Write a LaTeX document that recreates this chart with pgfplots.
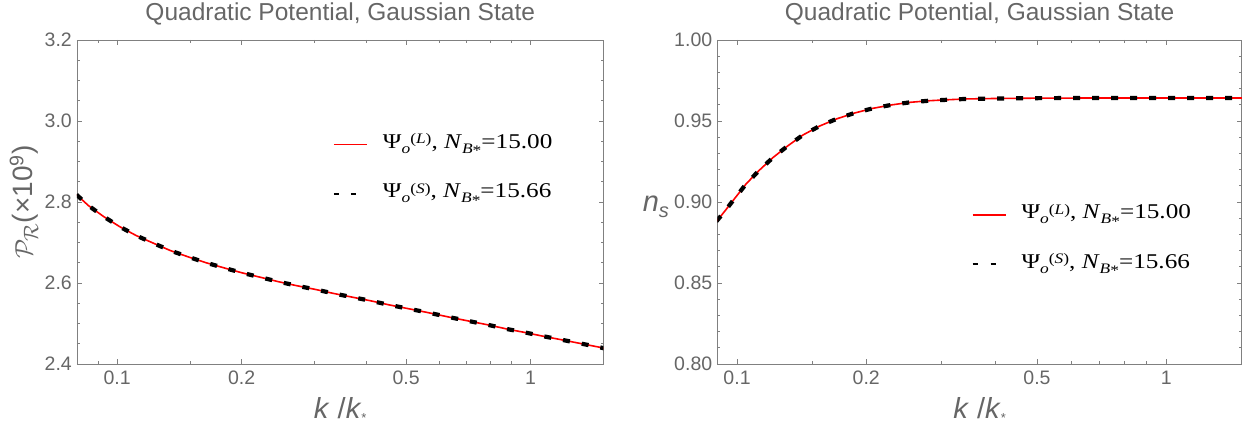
\documentclass[border=0pt]{standalone}
\usepackage{pgfplots}
\pgfplotsset{compat=1.18}
\usepackage{fontspec}
\setmainfont{Liberation Sans}
\newfontfamily\serif{Liberation Serif}[FakeStretch=1.2]
\definecolor{fr}{gray}{0.5}
\definecolor{tc}{gray}{0.4}

\newcommand{\legtext}[2]{Ψ\raisebox{-5pt}{\fontsize{14.5}{14}\selectfont\itshape o}\raisebox{4.5pt}{\fontsize{14.5}{14}\selectfont(\itshape #1\upshape)}, \textit{N}\raisebox{-5pt}{\fontsize{14.5}{14}\selectfont\itshape B\upshape\raisebox{-2.5pt}{*}}=#2\rule[-8pt]{0pt}{25pt}}

\pgfplotsset{
 mma/.style={
  scale only axis,
  axis line style={fr, line width=0.9pt},
  tick style={fr, line width=0.8pt},
  tick align=inside, major tick length=5pt, minor tick length=3pt,
  tick pos=both,
  xtick={0.1,0.2,0.5,1}, xticklabels={0.1,0.2,0.5,1},
  minor xtick={0.09,0.15,0.3,0.4,0.6,0.7,0.8,0.9},
  /pgf/number format/assume math mode=true,
  ticklabel style={font=\fontsize{19.5}{20}\selectfont, text=tc, inner sep=0pt},
  xticklabel style={anchor=north, yshift=-6.5pt},
  yticklabel style={anchor=east, xshift=-5pt},
  title style={at={(0.5,1)}, anchor=base, yshift=13.3pt, font=\fontsize{24.5}{26}\selectfont, text=tc},
  xlabel style={at={(axis description cs:0.5,0)}, anchor=base, yshift=-54.3pt, font=\fontsize{29}{30}\selectfont, text=tc},
  xlabel={\textit{k} /\textit{k}\raisebox{-4pt}{\fontsize{13}{13}\selectfont *}},
  title={Quadratic Potential, Gaussian State},
  legend style={draw=none, fill=none, inner sep=0pt, outer sep=0pt, nodes={inner sep=0pt},
    cells={anchor=base west}, row sep=31pt, font=\serif\fontsize{21}{22}\selectfont, anchor=north west},
  legend image code/.code={\draw[##1] (0pt,3.8pt) -- (33pt,3.8pt); \path[draw=none] (0pt,3.8pt) -- (49pt,3.8pt);},
 }
}

\begin{document}
\begin{tikzpicture}
\path[use as bounding box] (0,0) rectangle (1248pt,425pt);

\begin{axis}[xmode=log, mma,
  at={(77pt,61pt)}, anchor=south west, width=526.5pt, height=324pt,
  xmin=0.08, xmax=1.5, ymin=2.4, ymax=3.2,
  ytick={2.4,2.6,2.8,3.0,3.2}, yticklabels={2.4,2.6,2.8,3.0,3.2},
  minor ytick={2.45,2.5,2.55,2.65,2.7,2.75,2.85,2.9,2.95,3.05,3.1,3.15},
  ylabel={$\mathcal{P}_{\mathcal{R}}$(×10\textsuperscript{9})},
  ylabel style={at={([xshift=-53pt]axis description cs:0,0.5)}, anchor=center, font=\fontsize{28}{30}\selectfont, text=tc},
  legend style={at={(0.4862,0.7182)}},
]
\addplot[red, line width=1.6pt, forget plot] coordinates {
(0.0798,2.818) (0.0853,2.791) (0.0928,2.764) (0.1015,2.739) (0.1113,2.717) (0.1226,2.698)
(0.1346,2.680) (0.1491,2.664) (0.1642,2.650) (0.1819,2.637) (0.2007,2.625) (0.2223,2.614)
(0.2461,2.603) (0.2728,2.593) (0.3020,2.584) (0.3345,2.574) (0.3707,2.565) (0.4105,2.556)
(0.4546,2.546) (0.5037,2.537) (0.5578,2.528) (0.6474,2.514) (0.7167,2.505) (0.7942,2.496)
(0.8797,2.486) (0.9779,2.477) (1.0787,2.468) (1.1992,2.459) (1.3289,2.450) (1.4742,2.441) (1.51,2.438)};
\addplot[black, line width=4.2pt, dash pattern=on 7pt off 12pt, forget plot] coordinates {
(0.0798,2.818) (0.0853,2.791) (0.0928,2.764) (0.1015,2.739) (0.1113,2.717) (0.1226,2.698)
(0.1346,2.680) (0.1491,2.664) (0.1642,2.650) (0.1819,2.637) (0.2007,2.625) (0.2223,2.614)
(0.2461,2.603) (0.2728,2.593) (0.3020,2.584) (0.3345,2.574) (0.3707,2.565) (0.4105,2.556)
(0.4546,2.546) (0.5037,2.537) (0.5578,2.528) (0.6474,2.514) (0.7167,2.505) (0.7942,2.496)
(0.8797,2.486) (0.9779,2.477) (1.0787,2.468) (1.1992,2.459) (1.3289,2.450) (1.4742,2.441) (1.51,2.438)};
\addlegendimage{red, line width=1.3pt}
\addlegendentry{\legtext{L}{15.00}}
\addlegendimage{black, line width=2pt, dash pattern=on 5pt off 12pt}
\addlegendentry{\legtext{S}{15.66}}
\end{axis}

\begin{axis}[xmode=log, mma,
  at={(717.4pt,61pt)}, anchor=south west, width=524.4pt, height=324pt,
  xmin=0.09, xmax=1.5, ymin=0.8, ymax=1.0,
  ytick={0.8,0.85,0.9,0.95,1.0}, yticklabels={0.80,0.85,0.90,0.95,1.00},
  minor y tick num=4,
  ylabel={\textit{n}\raisebox{-6pt}{\fontsize{20}{20}\selectfont\textit{s}}},
  ylabel style={rotate=-90, at={([xshift=-61.5pt,yshift=-9.7pt]axis description cs:0,0.5)}, anchor=base, font=\fontsize{29}{30}\selectfont, text=tc},
  legend style={at={(0.4847,0.5009)}},
]
\addplot[red, line width=1.6pt, forget plot] coordinates {
(0.0895,0.8880) (0.0931,0.8935) (0.0987,0.9021) (0.1051,0.9113) (0.1129,0.9198) (0.1211,0.9273)
(0.1312,0.9346) (0.1425,0.9414) (0.1558,0.9469) (0.1710,0.9514) (0.1877,0.9549) (0.2071,0.9578)
(0.2286,0.9599) (0.2525,0.9615) (0.2796,0.9625) (0.3087,0.9631) (0.3405,0.9636) (0.40,0.9639)
(0.5,0.9641) (0.7,0.9642) (1.0,0.9642) (1.51,0.9642)};
\addplot[black, line width=4.2pt, dash pattern=on 7pt off 12pt, forget plot] coordinates {
(0.0895,0.8880) (0.0931,0.8935) (0.0987,0.9021) (0.1051,0.9113) (0.1129,0.9198) (0.1211,0.9273)
(0.1312,0.9346) (0.1425,0.9414) (0.1558,0.9469) (0.1710,0.9514) (0.1877,0.9549) (0.2071,0.9578)
(0.2286,0.9599) (0.2525,0.9615) (0.2796,0.9625) (0.3087,0.9631) (0.3405,0.9636) (0.40,0.9639)
(0.5,0.9641) (0.7,0.9642) (1.0,0.9642) (1.51,0.9642)};
\addlegendimage{red, line width=1.3pt}
\addlegendentry{\legtext{L}{15.00}}
\addlegendimage{black, line width=2pt, dash pattern=on 5pt off 13pt}
\addlegendentry{\legtext{S}{15.66}}
\end{axis}
\end{tikzpicture}
\end{document}
